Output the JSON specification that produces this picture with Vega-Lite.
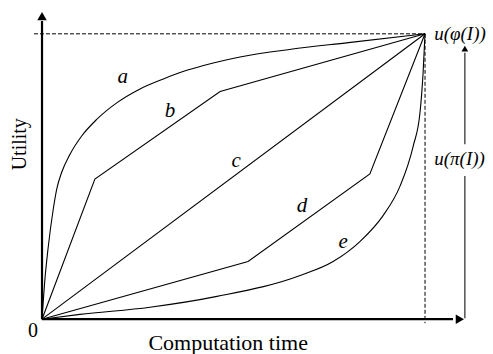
{
  "$schema": "https://vega.github.io/schema/vega-lite/v6.json",
  "width": 493,
  "height": 354,
  "autosize": {"type": "fit", "contains": "padding"},
  "padding": 0,
  "background": "white",
  "config": {"view": {"stroke": null}},
  "datasets": {
    "smooth": [
      {"curve": "a", "t": 0, "u": 0},
      {"curve": "a", "t": 0.0078, "u": 0.143},
      {"curve": "a", "t": 0.0157, "u": 0.247},
      {"curve": "a", "t": 0.0295, "u": 0.387},
      {"curve": "a", "t": 0.0384, "u": 0.456},
      {"curve": "a", "t": 0.0514, "u": 0.515},
      {"curve": "a", "t": 0.0731, "u": 0.578},
      {"curve": "a", "t": 0.1036, "u": 0.642},
      {"curve": "a", "t": 0.1428, "u": 0.7},
      {"curve": "a", "t": 0.195, "u": 0.758},
      {"curve": "a", "t": 0.256, "u": 0.807},
      {"curve": "a", "t": 0.317, "u": 0.842},
      {"curve": "a", "t": 0.378, "u": 0.872},
      {"curve": "a", "t": 0.447, "u": 0.898},
      {"curve": "a", "t": 0.517, "u": 0.919},
      {"curve": "a", "t": 0.65, "u": 0.946},
      {"curve": "a", "t": 0.8, "u": 0.969},
      {"curve": "a", "t": 1, "u": 1},
      {"curve": "e", "t": 0, "u": 0},
      {"curve": "e", "t": 0.099, "u": 0.017},
      {"curve": "e", "t": 0.282, "u": 0.042},
      {"curve": "e", "t": 0.457, "u": 0.08},
      {"curve": "e", "t": 0.674, "u": 0.153},
      {"curve": "e", "t": 0.76, "u": 0.202},
      {"curve": "e", "t": 0.83, "u": 0.272},
      {"curve": "e", "t": 0.89, "u": 0.362},
      {"curve": "e", "t": 0.935, "u": 0.467},
      {"curve": "e", "t": 0.969, "u": 0.606},
      {"curve": "e", "t": 0.987, "u": 0.725},
      {"curve": "e", "t": 0.995, "u": 0.864},
      {"curve": "e", "t": 1, "u": 1}
    ],
    "poly": [
      {"curve": "b", "t": 0, "u": 0},
      {"curve": "b", "t": 0.138, "u": 0.491},
      {"curve": "b", "t": 0.465, "u": 0.798},
      {"curve": "b", "t": 1, "u": 1},
      {"curve": "c", "t": 0, "u": 0},
      {"curve": "c", "t": 1, "u": 1},
      {"curve": "d", "t": 0, "u": 0},
      {"curve": "d", "t": 0.538, "u": 0.202},
      {"curve": "d", "t": 0.856, "u": 0.509},
      {"curve": "d", "t": 1, "u": 1}
    ],
    "axes": [
      {"x": 0, "y": 0, "x2": 1.073, "y2": 0},
      {"x": 0, "y": 0, "x2": 0, "y2": 1.045}
    ],
    "dashed": [
      {"x": -0.021, "y": 1, "x2": 1, "y2": 1},
      {"x": 1, "y": 1, "x2": 1, "y2": -0.014}
    ],
    "grayrules": [
      {"x": 1.104, "y": 0.934, "x2": 1.104, "y2": 0.613},
      {"x": 1.104, "y": 0.502, "x2": 1.104, "y2": 0.003}
    ],
    "heads": [
      {"x": 1.091, "y": 0, "shape": "triangle-right", "sz": 90},
      {"x": 0, "y": 1.062, "shape": "triangle-up", "sz": 90},
      {"x": 1.104, "y": 0.948, "shape": "triangle-up", "sz": 45}
    ],
    "letters": [
      {"x": 0.211, "y": 0.85, "label": "a"},
      {"x": 0.334, "y": 0.73, "label": "b"},
      {"x": 0.507, "y": 0.554, "label": "c"},
      {"x": 0.679, "y": 0.397, "label": "d"},
      {"x": 0.786, "y": 0.272, "label": "e"}
    ],
    "ulabels": [
      {"x": 1.024, "y": 1, "label": "u(φ(I))"},
      {"x": 1.024, "y": 0.56, "label": "u(π(I))"}
    ]
  },
  "layer": [
    {
      "data": {"name": "smooth"},
      "mark": {"type": "line", "interpolate": "monotone", "color": "black", "strokeWidth": 1.1},
      "encoding": {
        "x": {"field": "t", "type": "quantitative", "scale": {"domain": [-0.1097, 1.1775], "nice": false, "zero": false}, "axis": null},
        "y": {"field": "u", "type": "quantitative", "scale": {"domain": [-0.115, 1.1185], "nice": false, "zero": false}, "axis": null},
        "detail": {"field": "curve"}
      }
    },
    {
      "data": {"name": "poly"},
      "mark": {"type": "line", "color": "black", "strokeWidth": 1.1},
      "encoding": {
        "x": {"field": "t", "type": "quantitative"},
        "y": {"field": "u", "type": "quantitative"},
        "detail": {"field": "curve"}
      }
    },
    {
      "data": {"name": "axes"},
      "mark": {"type": "rule", "color": "black", "strokeWidth": 2.2},
      "encoding": {
        "x": {"field": "x", "type": "quantitative"},
        "y": {"field": "y", "type": "quantitative"},
        "x2": {"field": "x2"},
        "y2": {"field": "y2"}
      }
    },
    {
      "data": {"name": "dashed"},
      "mark": {"type": "rule", "color": "black", "strokeWidth": 1, "strokeDash": [4, 2]},
      "encoding": {
        "x": {"field": "x", "type": "quantitative"},
        "y": {"field": "y", "type": "quantitative"},
        "x2": {"field": "x2"},
        "y2": {"field": "y2"}
      }
    },
    {
      "data": {"name": "grayrules"},
      "mark": {"type": "rule", "color": "#444", "strokeWidth": 1.4},
      "encoding": {
        "x": {"field": "x", "type": "quantitative"},
        "y": {"field": "y", "type": "quantitative"},
        "x2": {"field": "x2"},
        "y2": {"field": "y2"}
      }
    },
    {
      "data": {"name": "heads"},
      "mark": {"type": "point", "filled": true, "color": "black", "opacity": 1, "strokeWidth": 0},
      "encoding": {
        "x": {"field": "x", "type": "quantitative"},
        "y": {"field": "y", "type": "quantitative"},
        "shape": {"field": "shape", "type": "nominal", "scale": null},
        "size": {"field": "sz", "type": "quantitative", "scale": null}
      }
    },
    {
      "data": {"name": "letters"},
      "mark": {"type": "text", "font": "Liberation Serif", "fontStyle": "italic", "fontSize": 21, "color": "black"},
      "encoding": {
        "x": {"field": "x", "type": "quantitative"},
        "y": {"field": "y", "type": "quantitative"},
        "text": {"field": "label"}
      }
    },
    {
      "data": {"name": "ulabels"},
      "mark": {"type": "text", "font": "Liberation Serif", "fontStyle": "italic", "fontSize": 19, "color": "black", "align": "left"},
      "encoding": {
        "x": {"field": "x", "type": "quantitative"},
        "y": {"field": "y", "type": "quantitative"},
        "text": {"field": "label"}
      }
    },
    {
      "data": {"values": [{"x": -0.0235, "y": -0.042, "label": "0"}]},
      "mark": {"type": "text", "font": "Liberation Serif", "fontSize": 20, "color": "black"},
      "encoding": {
        "x": {"field": "x", "type": "quantitative"},
        "y": {"field": "y", "type": "quantitative"},
        "text": {"field": "label"}
      }
    },
    {
      "data": {"values": [{"x": 0.486, "y": -0.108, "label": "Computation time"}]},
      "mark": {"type": "text", "font": "Liberation Serif", "fontSize": 22, "color": "black", "baseline": "alphabetic"},
      "encoding": {
        "x": {"field": "x", "type": "quantitative"},
        "y": {"field": "y", "type": "quantitative"},
        "text": {"field": "label"}
      }
    },
    {
      "data": {"values": [{"x": -0.0587, "y": 0.613, "label": "Utility"}]},
      "mark": {"type": "text", "font": "Liberation Serif", "fontSize": 20, "color": "black", "angle": 270},
      "encoding": {
        "x": {"field": "x", "type": "quantitative"},
        "y": {"field": "y", "type": "quantitative"},
        "text": {"field": "label"}
      }
    }
  ]
}
